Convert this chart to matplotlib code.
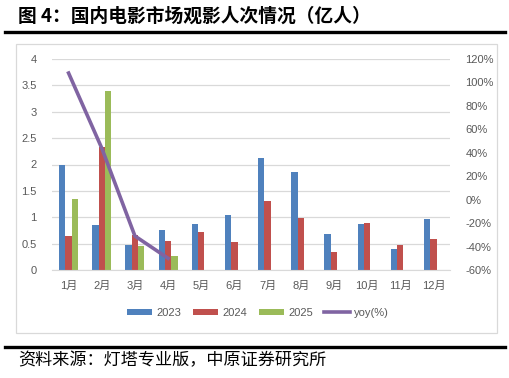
import numpy as np
import matplotlib.pyplot as plt
from matplotlib.patches import Rectangle
from matplotlib.lines import Line2D

months = ["1月", "2月", "3月", "4月", "5月", "6月", "7月", "8月", "9月", "10月", "11月", "12月"]
v2023 = [2.00, 0.86, 0.48, 0.75, 0.87, 1.05, 2.12, 1.86, 0.68, 0.88, 0.40, 0.96]
v2024 = [0.64, 2.34, 0.67, 0.55, 0.72, 0.54, 1.30, 0.98, 0.35, 0.89, 0.47, 0.58]
v2025 = [1.34, 3.39, 0.46, 0.27]
yoy = [108, 44, -31, -50]

fam = ["Liberation Sans", "Noto Sans CJK SC"]
plt.rcParams["font.family"] = fam

c23 = "#4F81BD"
c24 = "#C0504D"
c25 = "#9BBB59"
cyoy = "#8064A2"
tc = "#595959"

fig = plt.figure(figsize=(5.1, 3.78), dpi=100)

# title and rules
fig.text(18 / 510, 1 - 16 / 378, "图 4：国内电影市场观影人次情况（亿人）", fontsize=13.5,
         fontweight="bold", family=["Noto Sans CJK SC"], va="center", ha="left")
fig.add_artist(Line2D([5 / 510, 505 / 510], [1 - 31.5 / 378] * 2, color="black", lw=2.4))
fig.add_artist(Line2D([5 / 510, 505 / 510], [1 - 346.5 / 378] * 2, color="black", lw=2.4))
fig.text(18 / 510, 1 - 360 / 378, "资料来源：灯塔专业版，中原证券研究所", fontsize=12.3,
         family=["Noto Sans CJK SC"], va="center", ha="left")

# chart border
fig.add_artist(Rectangle((16 / 510, 1 - 332.5 / 378), (497.5 - 16) / 510, (332.5 - 44) / 378,
                         transform=fig.transFigure, fill=False, edgecolor="#D9D9D9", lw=0.9))

ax = fig.add_axes([52 / 510, 1 - 270 / 378, (450 - 52) / 510, (270 - 59) / 378])
x = np.arange(len(months))
w = 0.19
ax.bar(x - w, v2023, w, color=c23, label="2023")
ax.bar(x, v2024, w, color=c24, label="2024")
ax.bar(x[:len(v2025)] + w, v2025, w, color=c25, label="2025")

ax.set_ylim(0, 4)
ax.set_yticks(np.arange(0, 4.01, 0.5))
ax.set_yticklabels(["0", "0.5", "1", "1.5", "2", "2.5", "3", "3.5", "4"])
ax.set_xlim(-0.5, 11.5)
ax.set_xticks(x)
ax.set_xticklabels(months)
ax.yaxis.grid(True, color="#D9D9D9", lw=0.9)
ax.set_axisbelow(True)
for s in ["top", "right", "left"]:
    ax.spines[s].set_visible(False)
ax.spines["bottom"].set_color("#D9D9D9")
ax.tick_params(axis="both", length=0, colors=tc, labelsize=8)
ax.tick_params(axis="y", pad=11)
ax.tick_params(axis="x", pad=8)

ax2 = ax.twinx()
ax2.plot(x[:len(yoy)], yoy, color=cyoy, lw=2.6, label="yoy(%)")
ax2.set_ylim(-60, 120)
ax2.set_yticks(np.arange(-60, 121, 20))
ax2.set_yticklabels([f"{v}%" for v in range(-60, 121, 20)])
for s in ax2.spines.values():
    s.set_visible(False)
ax2.tick_params(axis="y", length=0, colors=tc, labelsize=8, pad=11)

h1, l1 = ax.get_legend_handles_labels()
h2, l2 = ax2.get_legend_handles_labels()
fig.legend(h1 + h2, l1 + l2, loc="center", bbox_to_anchor=(258 / 510, 1 - 313 / 378), ncol=4,
           frameon=False, fontsize=8, labelcolor=tc, handlelength=2.3, handleheight=0.5,
           columnspacing=1.0, handletextpad=0.4)

fig.savefig("out.png", dpi=100)
